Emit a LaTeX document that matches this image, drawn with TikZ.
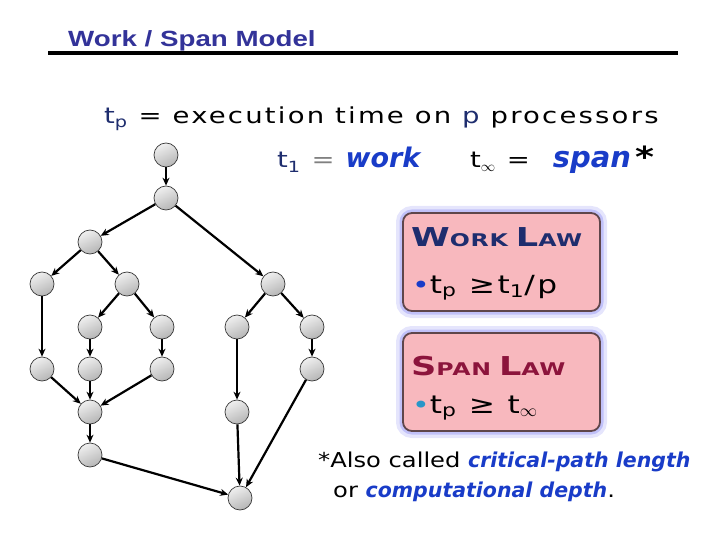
\documentclass[tikz,border=0pt]{standalone}
\usepackage{fontspec}
\usepackage{xcolor}
\usepackage{tikz}
\setmainfont{DejaVu Sans}
\newfontfamily\titlefont[FakeStretch=1.26]{Liberation Sans}
\newfontfamily\bodyfont[LetterSpace=10,FakeStretch=1.25]{DejaVu Sans}
\newfontfamily\notefont[FakeStretch=1.18]{DejaVu Sans}
\newfontfamily\lawfont[FakeStretch=1.35,LetterSpace=4]{DejaVu Sans}
\usetikzlibrary{arrows.meta,positioning,shadings}

\definecolor{titleblue}{RGB}{51,51,153}
\definecolor{navy}{RGB}{30,45,110}
\definecolor{termblue}{RGB}{25,60,200}
\definecolor{lawpink}{RGB}{248,184,190}
\definecolor{lawedge}{RGB}{95,70,75}
\definecolor{spanred}{RGB}{140,20,60}
\definecolor{halo}{RGB}{150,150,245}
\definecolor{dotcyan}{RGB}{40,150,200}

\newcommand{\smallcap}[2]{{\fontsize{26}{26}\selectfont #1}{\fontsize{17.5}{17.5}\selectfont #2}}
\newcommand{\term}[1]{\textcolor{termblue}{\rmfamily\bfseries\itshape #1}}
\newcommand{\lawdot}[1]{\textcolor{#1}{\fontsize{24}{24}\selectfont\textbullet}}

\begin{document}
\begin{tikzpicture}[x=1pt, y=-1pt,
    task/.style={circle, minimum size=24pt, inner sep=0pt,
                 shading=axis, top color=gray!12, bottom color=gray!58, shading angle=25,
                 draw=gray!45!black, line width=0.7pt},
    dep/.style={-{Stealth[length=8pt,width=7pt]}, line width=2.2pt},
    lawbox/.style={rounded corners=9pt, fill=lawpink, draw=lawedge,
                   line width=1.8pt, minimum width=197pt, minimum height=98pt,
                   preaction={draw=halo, line width=14pt, opacity=0.25},
                   preaction={draw=halo, line width=7pt, opacity=0.45}},
    txt/.style={anchor=base west, inner sep=0pt, font=\bodyfont\fontsize{22}{22}\selectfont}]
   \useasboundingbox (0,0) rectangle (720,540);

   % heading
   \node[anchor=base west, inner sep=0pt, text=titleblue,
         font=\titlefont\bfseries\fontsize{22}{22}\selectfont] (title) at (68,47) {Work / Span Model};
   \draw[line width=3.5pt] (48,53) -- (678,53);

   \node[txt] (defn) at (104,124)
     {\textcolor{navy}{t\textsubscript{p}} = execution time on \textcolor{navy}{p} processors};
   \node[txt] (work) at (277,168)
     {\textcolor{navy}{t\textsubscript{1}} \textcolor{gray}{=} {\fontsize{27}{27}\selectfont\term{work}}};
   \node[txt] (span) at (470,168)
     {t\textsubscript{$\infty$} = \hspace{12pt}{\fontsize{29}{29}\selectfont\term{span}\hspace{4pt}\textbf{*}}};

   % the dag
   \node[task] (v1) at (166,155) {};
   \node[task] (v2) at (166,198) {};
   \node[task] (v3) at (90,242) {};
   \node[task] (v4) at (42,284) {};
   \node[task] (v5) at (127,284) {};
   \node[task] (v6) at (273,284) {};
   \node[task] (v7) at (90,327) {};
   \node[task] (v8) at (162,327) {};
   \node[task] (v9) at (237,327) {};
   \node[task] (v10) at (312,327) {};
   \node[task] (v11) at (42,369) {};
   \node[task] (v12) at (90,369) {};
   \node[task] (v13) at (162,369) {};
   \node[task] (v14) at (312,369) {};
   \node[task] (v15) at (90,412) {};
   \node[task] (v16) at (237,412) {};
   \node[task] (v17) at (90,455) {};
   \node[task] (v18) at (240,498) {};

   \path[dep]
   (v1) edge (v2)
   (v2) edge (v3)
   (v2) edge (v6)
   (v3) edge (v4)
   (v3) edge (v5)
   (v4) edge (v11)
   (v5) edge (v7)
   (v5) edge (v8)
   (v7) edge (v12)
   (v8) edge (v13)
   (v11) edge (v15)
   (v12) edge (v15)
   (v13) edge (v15)
   (v15) edge (v17)
   (v17) edge (v18)
   (v6) edge (v9)
   (v6) edge (v10)
   (v9) edge (v16)
   (v10) edge (v14)
   (v16) edge (v18)
   (v14) edge (v18);

   % the two laws
   \node[lawbox] (worklaw) at (501.5,262) {};
   \node[lawbox] (spanlaw) at (501.5,382) {};

   \node[anchor=base west, inner sep=0pt, text=navy, font=\lawfont\bfseries] (workhead) at (411,246)
     {\smallcap{W}{ORK}\hspace{8pt}\smallcap{L}{AW}};
   \node[txt, font=\bodyfont\fontsize{25}{25}\selectfont] (workrule) at (412,293)
     {\lawdot{termblue}t\textsubscript{p} ≥t\textsubscript{1}/p};
   \node[anchor=base west, inner sep=0pt, text=spanred, font=\lawfont\bfseries] (spanhead) at (411,375)
     {\smallcap{S}{PAN}\hspace{8pt}\smallcap{L}{AW}};
   \node[txt, font=\bodyfont\fontsize{25}{25}\selectfont] (spanrule) at (412,413)
     {\lawdot{dotcyan}t\textsubscript{p} ≥ t\textsubscript{$\infty$}};

   % footnote
   \node[txt, font=\notefont\fontsize{20.5}{20.5}\selectfont] (note1) at (318,467)
     {*Also called \term{critical-path length}};
   \node[txt, font=\notefont\fontsize{20.5}{20.5}\selectfont] (note2) at (333,497)
     {or \term{computational depth}.};
\end{tikzpicture}
\end{document}
